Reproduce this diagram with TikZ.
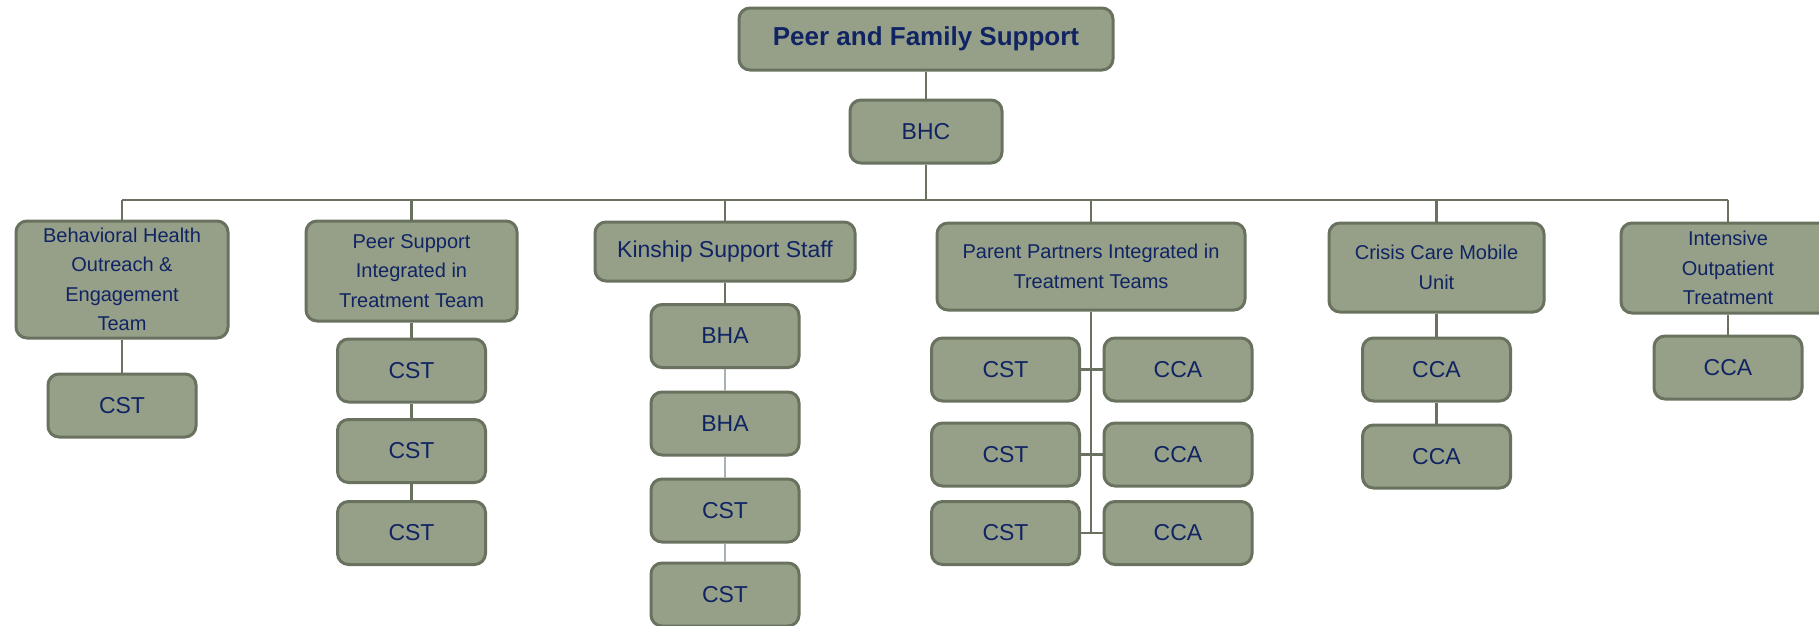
\documentclass[tikz,border=0pt]{standalone}
\usepackage{fontspec}
\setmainfont{Liberation Sans}
\definecolor{boxfill}{RGB}{150,160,136}
\definecolor{boxline}{RGB}{104,114,94}
\definecolor{txt}{RGB}{16,36,100}
\definecolor{lightlink}{RGB}{166,178,184}
\tikzset{
  orgbox/.style={draw=boxline, fill=boxfill, line width=3pt, rounded corners=11pt,
    text=txt, align=center, inner sep=0pt, font=\fontsize{23}{27}\selectfont},
  smalltxt/.style={font=\fontsize{20}{29.5}\selectfont},
  link/.style={draw=boxline, line width=2.5pt},
  lightlk/.style={draw=lightlink, line width=2.5pt},
}
\begin{document}
\begin{tikzpicture}[x=1pt,y=-1pt]
\useasboundingbox (0,0) rectangle (1819,625);
\clip (0,0) rectangle (1819,625);
% top
\node[orgbox, minimum width=374pt, minimum height=62pt, font=\bfseries\fontsize{26}{30}\selectfont] (top) at (926,39) {Peer and Family Support};
\node[orgbox, minimum width=152pt, minimum height=63pt] (bhc) at (926,131.5) {BHC};
% level 1
\node[orgbox, smalltxt, minimum width=212pt, minimum height=117pt] (bho) at (122,279.5) {Behavioral Health\\Outreach \&\\Engagement\\Team};
\node[orgbox, smalltxt, minimum width=211pt, minimum height=100pt] (psi) at (411.5,271) {Peer Support\\Integrated in\\Treatment Team};
\node[orgbox, minimum width=260pt, minimum height=59pt] (kin) at (725,251.5) {Kinship Support Staff};
\node[orgbox, smalltxt, minimum width=308pt, minimum height=87pt] (ppi) at (1091,266.5) {Parent Partners Integrated in\\Treatment Teams};
\node[orgbox, smalltxt, minimum width=215pt, minimum height=89pt] (ccm) at (1436.5,267.5) {Crisis Care Mobile\\Unit};
\node[orgbox, smalltxt, minimum width=214pt, minimum height=90pt] (iot) at (1728,268) {Intensive\\Outpatient\\Treatment};
% level 2
\tikzset{leaf/.style={orgbox, minimum width=148pt, minimum height=63pt}}
\node[leaf] (b1) at (122,405.5) {CST};
\node[leaf] (p1) at (411.5,370.5) {CST};
\node[leaf] (p2) at (411.5,451) {CST};
\node[leaf] (p3) at (411.5,533) {CST};
\node[leaf] (k1) at (725,336) {BHA};
\node[leaf] (k2) at (725,423.5) {BHA};
\node[leaf] (k3) at (725,510.5) {CST};
\node[leaf] (k4) at (725,594.5) {CST};
\node[leaf] (pc1) at (1005.5,369.5) {CST};
\node[leaf] (pc2) at (1005.5,454.5) {CST};
\node[leaf] (pc3) at (1005.5,533) {CST};
\node[leaf] (pa1) at (1178,369.5) {CCA};
\node[leaf] (pa2) at (1178,454.5) {CCA};
\node[leaf] (pa3) at (1178,533) {CCA};
\node[leaf] (c1) at (1436.5,369.5) {CCA};
\node[leaf] (c2) at (1436.5,456.5) {CCA};
\node[leaf] (i1) at (1728,367.5) {CCA};
% connectors
\coordinate (busL) at (122,200);
\coordinate (busR) at (1728,200);
\coordinate (pend) at (1091,533);
\begin{scope}[on background layer/.style={}]
\end{scope}
\path[link] (top.south) -- (bhc.north);
\path[link] (bhc.south) -- (bhc.south |- busL);
\path[link] (busL) -- (busR);
\foreach \n in {bho,psi,kin,ppi,ccm,iot}{\path[link] (\n.north) -- (\n.north |- busL);}
\path[link] (bho.south) -- (b1.north);
\path[link] (psi.south) -- (p1.north);
\path[link] (p1.south) -- (p2.north);
\path[link] (p2.south) -- (p3.north);
\path[link] (kin.south) -- (k1.north);
\path[lightlk] (k1.south) -- (k2.north);
\path[lightlk] (k2.south) -- (k3.north);
\path[lightlk] (k3.south) -- (k4.north);
\path[link] (ppi.south) -- (pend);
\path[link] (pc1.east) -- (pa1.west);
\path[link] (pc2.east) -- (pa2.west);
\path[link] (pc3.east) -- (pa3.west);
\path[link] (ccm.south) -- (c1.north);
\path[link] (c1.south) -- (c2.north);
\path[link] (iot.south) -- (i1.north);
\end{tikzpicture}
\end{document}
